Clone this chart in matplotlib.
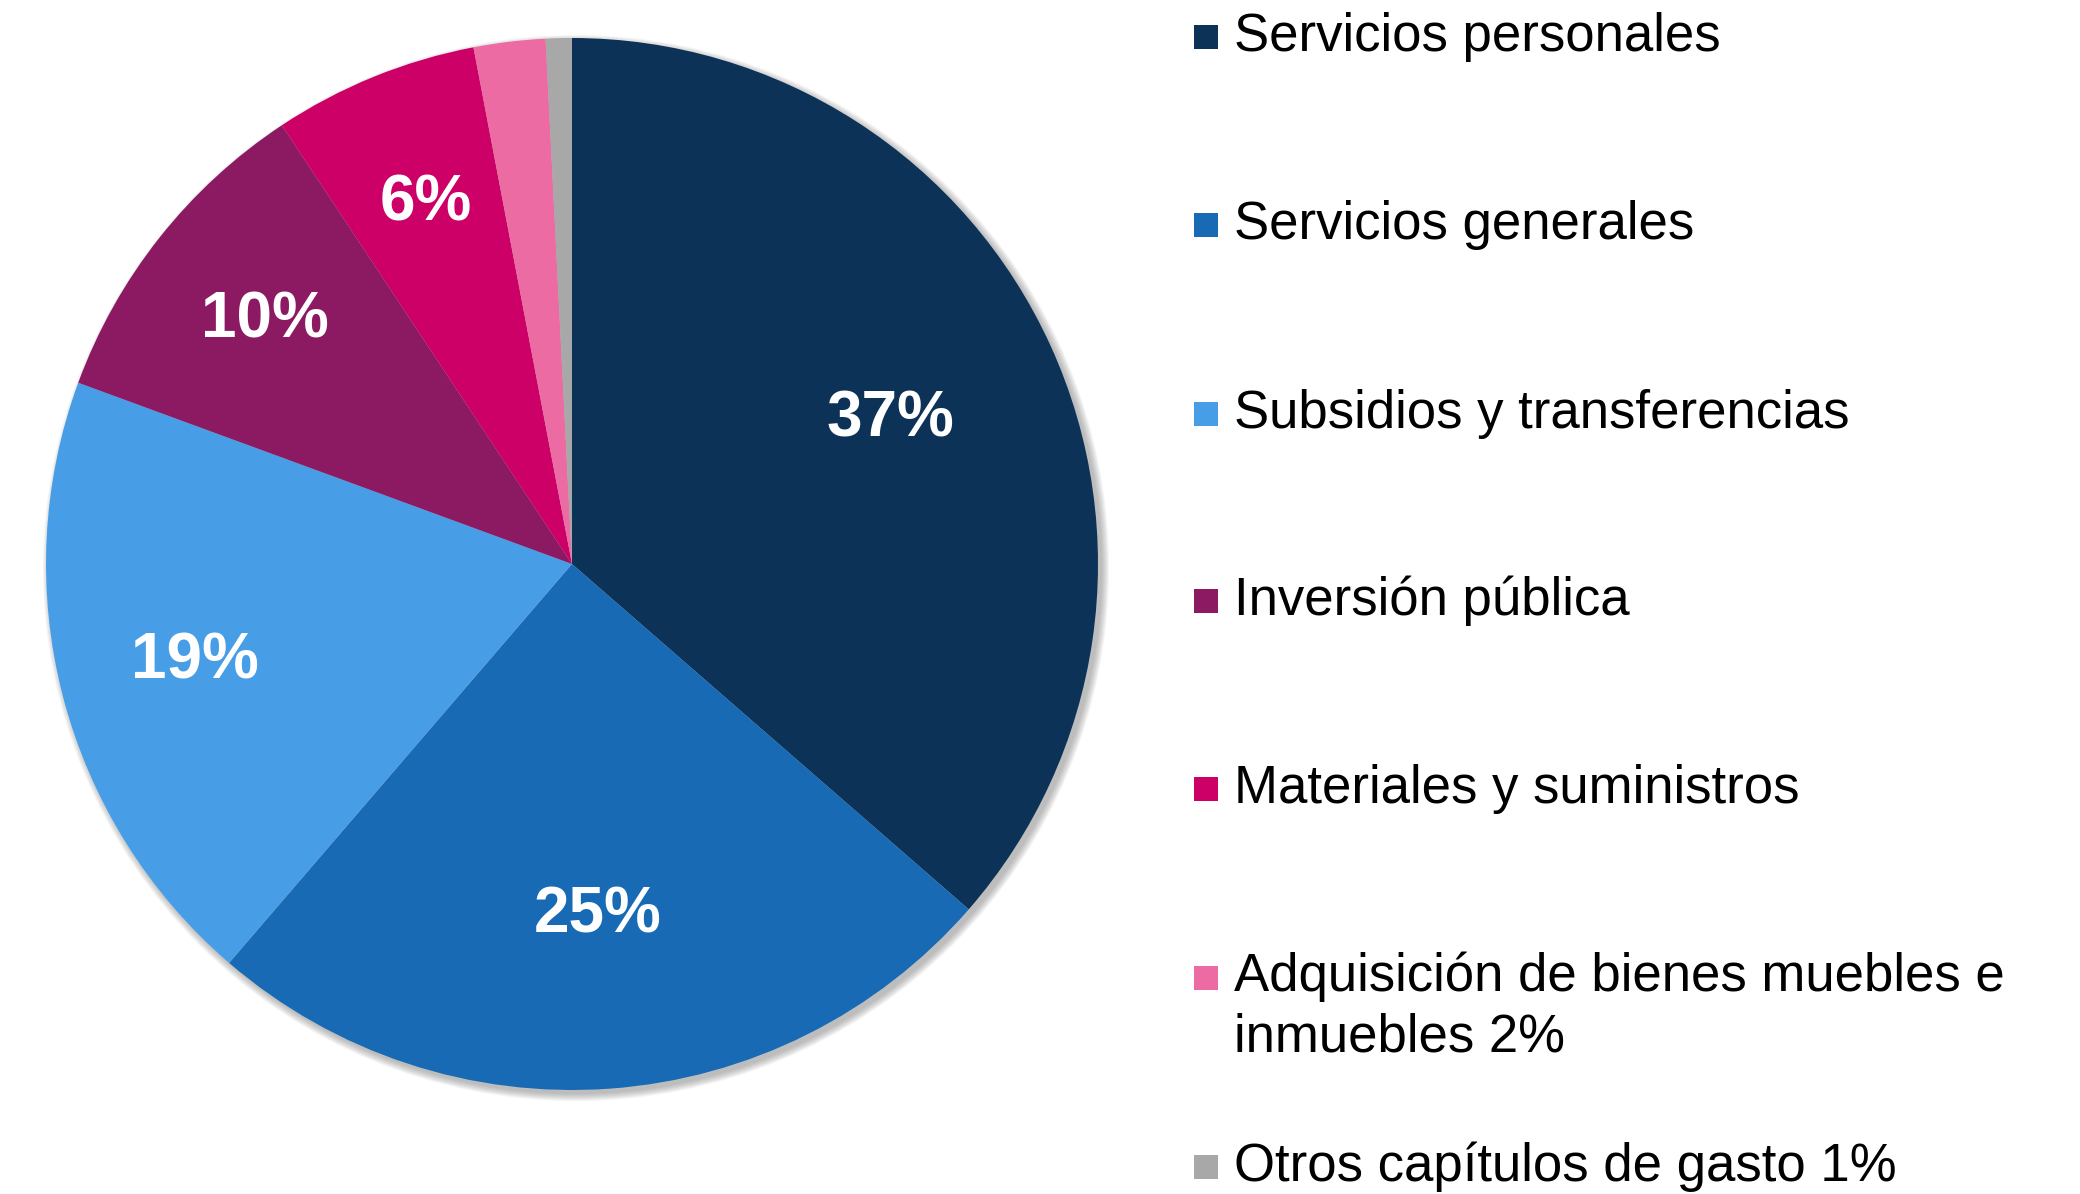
import numpy as np
import matplotlib
matplotlib.use('Agg')
import matplotlib.pyplot as plt
from matplotlib.patches import Rectangle, Circle

plt.rcParams['font.family'] = ['Liberation Sans', 'DejaVu Sans']

# datos
categorias = ['Servicios personales', 'Servicios generales', 'Subsidios y transferencias',
              'Inversión pública', 'Materiales y suministros',
              'Adquisición de bienes muebles e\ninmuebles 2%', 'Otros capítulos de gasto 1%']
valores = [36.4, 24.9, 19.3, 10.1, 6.3, 2.2, 0.8]
etiquetas = ['37%', '25%', '19%', '10%', '6%', '', '']
colores = ['#0D3257', '#176AB3', '#489EE6', '#8B1A63', '#CC0066', '#EC6BA3', '#A8A8A8']

W, H = 2080, 1194
fig = plt.figure(figsize=(W / 100, H / 100), dpi=100)

# pie centrado en (572, 564) px, radio 526 px
cx, cy, r = 572, 564, 526
half = 560
ax = fig.add_axes([(cx - half) / W, (H - cy - half) / H, 2 * half / W, 2 * half / H])
wedges, _ = ax.pie(valores, colors=colores, startangle=90, counterclock=False,
                   wedgeprops=dict(linewidth=0, zorder=3))
lim = half / r
ax.set_xlim(-lim, lim)
ax.set_ylim(-lim, lim)
ax.set_aspect('equal')

# sombra suave
px = 1.0 / r
for k in range(8):
    ax.add_patch(Circle((4 * px, -4 * px), 1 + k * px, facecolor='#707070',
                        edgecolor='none', alpha=0.07, zorder=1))

dist = [0.665, 0.67, 0.74, 0.745, 0.74, 0, 0]
for w, lab, d in zip(wedges, etiquetas, dist):
    if not lab:
        continue
    ang = np.deg2rad((w.theta1 + w.theta2) / 2)
    ax.text(d * np.cos(ang), d * np.sin(ang), lab, ha='center', va='center',
            color='white', fontsize=46, fontweight='bold', zorder=4)

# leyenda manual
filas = [37, 225, 414, 601, 789, 1007, 1167]
caja = [37, 225, 414, 601, 789, 978, 1167]
for lab, col, y, yc in zip(categorias, colores, filas, caja):
    fig.patches.append(Rectangle((1194 / W, 1 - (yc + 12) / H), 24 / W, 24 / H,
                                 transform=fig.transFigure, facecolor=col, edgecolor='none'))
    fig.text(1234 / W, 1 - y / H, lab, ha='left', va='center', fontsize=38,
             color='black', linespacing=1.25)

fig.savefig('out.png', dpi=100, facecolor='white')
